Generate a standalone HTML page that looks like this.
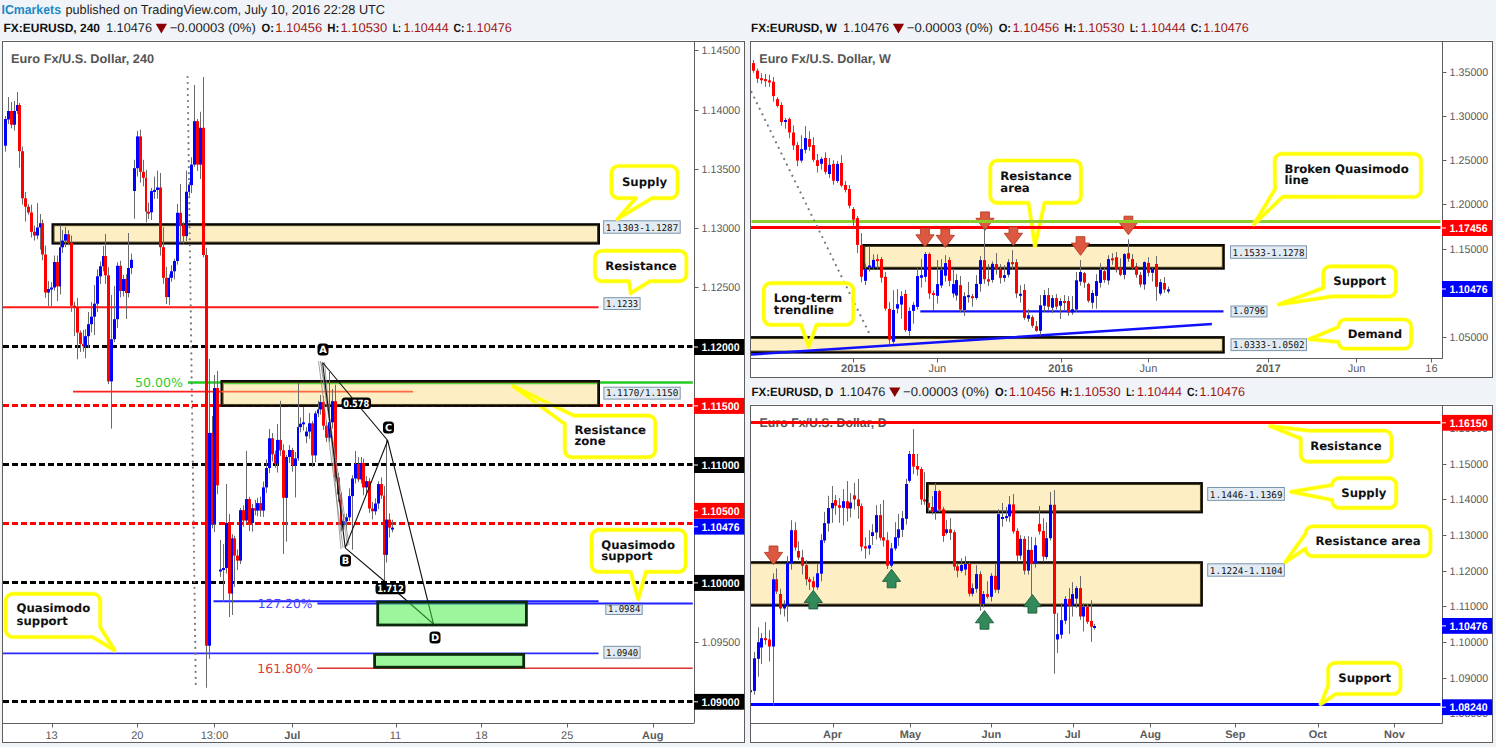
<!DOCTYPE html><html><head><meta charset="utf-8"><title>EURUSD</title><style>html,body{margin:0;padding:0;background:#f0f3f7;}svg{display:block}</style></head><body>
<svg width="1496" height="747" viewBox="0 0 1496 747" text-rendering="geometricPrecision">
<rect x="0" y="0" width="1496" height="747" fill="#f0f3f7"/>
<text x="1.5" y="13.5" font-family="'Liberation Sans', sans-serif" font-size="13" fill="#1a8ac6" font-weight="bold" textLength="59.5" lengthAdjust="spacingAndGlyphs">ICmarkets</text>
<text x="65.5" y="13.5" font-family="'Liberation Sans', sans-serif" font-size="13" fill="#1e1e1e" textLength="319.5" lengthAdjust="spacingAndGlyphs">published on TradingView.com, July 10, 2016 22:28 UTC</text>
<text x="3.5" y="32" font-family="'Liberation Sans', sans-serif" font-size="12" fill="#111" font-weight="bold" textLength="96.5" lengthAdjust="spacingAndGlyphs">FX:EURUSD, 240</text>
<text x="106" y="32" font-family="'Liberation Sans', sans-serif" font-size="12.6" fill="#1e1e1e" textLength="46" lengthAdjust="spacingAndGlyphs">1.10476</text>
<path d="M155.7,23.8h11.3l-5.65,9.6z" fill="#8b0000"/>
<text x="169.7" y="32" font-family="'Liberation Sans', sans-serif" font-size="12.6" fill="#1e1e1e" textLength="86.1" lengthAdjust="spacingAndGlyphs">−0.00003 (0%)</text>
<text x="261.6" y="32" font-family="'Liberation Sans', sans-serif" font-size="12" fill="#111" font-weight="bold" textLength="12.4" lengthAdjust="spacingAndGlyphs">O:</text>
<text x="275.3" y="32" font-family="'Liberation Sans', sans-serif" font-size="12.6" fill="#a31515" textLength="46.9" lengthAdjust="spacingAndGlyphs">1.10456</text>
<text x="327.2" y="32" font-family="'Liberation Sans', sans-serif" font-size="12" fill="#111" font-weight="bold" textLength="12" lengthAdjust="spacingAndGlyphs">H:</text>
<text x="340.4" y="32" font-family="'Liberation Sans', sans-serif" font-size="12.6" fill="#a31515" textLength="46.9" lengthAdjust="spacingAndGlyphs">1.10530</text>
<text x="392.8" y="32" font-family="'Liberation Sans', sans-serif" font-size="12" fill="#111" font-weight="bold" textLength="8.2" lengthAdjust="spacingAndGlyphs">L:</text>
<text x="403.5" y="32" font-family="'Liberation Sans', sans-serif" font-size="12.6" fill="#a31515" textLength="45.1" lengthAdjust="spacingAndGlyphs">1.10444</text>
<text x="453.6" y="32" font-family="'Liberation Sans', sans-serif" font-size="12" fill="#111" font-weight="bold" textLength="11" lengthAdjust="spacingAndGlyphs">C:</text>
<text x="466.1" y="32" font-family="'Liberation Sans', sans-serif" font-size="12.6" fill="#a31515" textLength="45.6" lengthAdjust="spacingAndGlyphs">1.10476</text>
<text x="751" y="32" font-family="'Liberation Sans', sans-serif" font-size="12" fill="#111" font-weight="bold" textLength="85.9" lengthAdjust="spacingAndGlyphs">FX:EURUSD, W</text>
<text x="843.1" y="32" font-family="'Liberation Sans', sans-serif" font-size="12.6" fill="#1e1e1e" textLength="46" lengthAdjust="spacingAndGlyphs">1.10476</text>
<path d="M892.8,23.8h11.3l-5.65,9.6z" fill="#8b0000"/>
<text x="906.8" y="32" font-family="'Liberation Sans', sans-serif" font-size="12.6" fill="#1e1e1e" textLength="86.1" lengthAdjust="spacingAndGlyphs">−0.00003 (0%)</text>
<text x="998.7" y="32" font-family="'Liberation Sans', sans-serif" font-size="12" fill="#111" font-weight="bold" textLength="12.4" lengthAdjust="spacingAndGlyphs">O:</text>
<text x="1012.4" y="32" font-family="'Liberation Sans', sans-serif" font-size="12.6" fill="#a31515" textLength="46.9" lengthAdjust="spacingAndGlyphs">1.10456</text>
<text x="1064.3" y="32" font-family="'Liberation Sans', sans-serif" font-size="12" fill="#111" font-weight="bold" textLength="12" lengthAdjust="spacingAndGlyphs">H:</text>
<text x="1077.5" y="32" font-family="'Liberation Sans', sans-serif" font-size="12.6" fill="#a31515" textLength="46.9" lengthAdjust="spacingAndGlyphs">1.10530</text>
<text x="1129.9" y="32" font-family="'Liberation Sans', sans-serif" font-size="12" fill="#111" font-weight="bold" textLength="8.2" lengthAdjust="spacingAndGlyphs">L:</text>
<text x="1140.6" y="32" font-family="'Liberation Sans', sans-serif" font-size="12.6" fill="#a31515" textLength="45.1" lengthAdjust="spacingAndGlyphs">1.10444</text>
<text x="1190.7" y="32" font-family="'Liberation Sans', sans-serif" font-size="12" fill="#111" font-weight="bold" textLength="11" lengthAdjust="spacingAndGlyphs">C:</text>
<text x="1203.2" y="32" font-family="'Liberation Sans', sans-serif" font-size="12.6" fill="#a31515" textLength="45.6" lengthAdjust="spacingAndGlyphs">1.10476</text>
<text x="751.6" y="395.7" font-family="'Liberation Sans', sans-serif" font-size="12" fill="#111" font-weight="bold" textLength="81.7" lengthAdjust="spacingAndGlyphs">FX:EURUSD, D</text>
<text x="839.4" y="395.7" font-family="'Liberation Sans', sans-serif" font-size="12.6" fill="#1e1e1e" textLength="46" lengthAdjust="spacingAndGlyphs">1.10476</text>
<path d="M889.1,387.5h11.3l-5.65,9.6z" fill="#8b0000"/>
<text x="903.1" y="395.7" font-family="'Liberation Sans', sans-serif" font-size="12.6" fill="#1e1e1e" textLength="86.1" lengthAdjust="spacingAndGlyphs">−0.00003 (0%)</text>
<text x="995" y="395.7" font-family="'Liberation Sans', sans-serif" font-size="12" fill="#111" font-weight="bold" textLength="12.4" lengthAdjust="spacingAndGlyphs">O:</text>
<text x="1008.7" y="395.7" font-family="'Liberation Sans', sans-serif" font-size="12.6" fill="#a31515" textLength="46.9" lengthAdjust="spacingAndGlyphs">1.10456</text>
<text x="1060.6" y="395.7" font-family="'Liberation Sans', sans-serif" font-size="12" fill="#111" font-weight="bold" textLength="12" lengthAdjust="spacingAndGlyphs">H:</text>
<text x="1073.8" y="395.7" font-family="'Liberation Sans', sans-serif" font-size="12.6" fill="#a31515" textLength="46.9" lengthAdjust="spacingAndGlyphs">1.10530</text>
<text x="1126.2" y="395.7" font-family="'Liberation Sans', sans-serif" font-size="12" fill="#111" font-weight="bold" textLength="8.2" lengthAdjust="spacingAndGlyphs">L:</text>
<text x="1136.9" y="395.7" font-family="'Liberation Sans', sans-serif" font-size="12.6" fill="#a31515" textLength="45.1" lengthAdjust="spacingAndGlyphs">1.10444</text>
<text x="1187" y="395.7" font-family="'Liberation Sans', sans-serif" font-size="12" fill="#111" font-weight="bold" textLength="11" lengthAdjust="spacingAndGlyphs">C:</text>
<text x="1199.5" y="395.7" font-family="'Liberation Sans', sans-serif" font-size="12.6" fill="#a31515" textLength="45.6" lengthAdjust="spacingAndGlyphs">1.10476</text>
<rect x="2.5" y="41.5" width="742" height="701" fill="#fff" stroke="#5e5e5e" stroke-width="1"/>
<line x1="2" y1="40.5" x2="745" y2="40.5" stroke="#fbfdfe" stroke-width="1"/>
<line x1="3" y1="346.5" x2="692.5" y2="346.5" stroke="#000" stroke-width="3" stroke-dasharray="6 3"/>
<line x1="3" y1="464.5" x2="692.5" y2="464.5" stroke="#000" stroke-width="3" stroke-dasharray="6 3"/>
<line x1="3" y1="582.5" x2="692.5" y2="582.5" stroke="#000" stroke-width="3" stroke-dasharray="6 3"/>
<line x1="3" y1="701.5" x2="692.5" y2="701.5" stroke="#000" stroke-width="3" stroke-dasharray="6 3"/>
<line x1="3" y1="405.5" x2="692.5" y2="405.5" stroke="#ff0000" stroke-width="3" stroke-dasharray="6 3"/>
<line x1="3" y1="523.5" x2="692.5" y2="523.5" stroke="#ff0000" stroke-width="3" stroke-dasharray="6 3"/>
<line x1="3" y1="307.3" x2="598.6" y2="307.3" stroke="#ff1a1a" stroke-width="2"/>
<line x1="188" y1="382.5" x2="692.8" y2="382.5" stroke="#22cc22" stroke-width="2.6"/>
<line x1="213.5" y1="601.3" x2="598.6" y2="601.3" stroke="#2020ff" stroke-width="2"/>
<line x1="317.4" y1="603.6" x2="692.8" y2="603.6" stroke="#2020ff" stroke-width="2"/>
<line x1="3" y1="653.3" x2="598.6" y2="653.3" stroke="#2a2aff" stroke-width="1.8"/>
<line x1="317" y1="668.2" x2="692.8" y2="668.2" stroke="#e03030" stroke-width="1.6"/>
<rect x="53" y="224.7" width="545.5" height="18.4" fill="#fdeec3"/>
<rect x="53" y="224.7" width="545.5" height="18.4" fill="none" stroke="#050505" stroke-width="3"/>
<rect x="53.9" y="225.6" width="543.7" height="16.6" fill="none" stroke="#5e4d1c" stroke-width="1.2" stroke-opacity="0.85"/>
<rect x="55.1" y="226.8" width="541.3" height="14.2" fill="none" stroke="#fff6d6" stroke-width="0.9" stroke-opacity="0.9"/>
<rect x="222" y="381.5" width="376.5" height="23.9" fill="#fdeec3"/>
<line x1="222" y1="382.6" x2="598.6" y2="382.6" stroke="#22cc22" stroke-width="2.6"/>
<path d="M574,415.6 L648.2,415.6 A7,7 0 0 1 655.2,422.6 L655.2,450.2 A7,7 0 0 1 648.2,457.2 L571.8,457.2 A7,7 0 0 1 564.8,450.2 L564.8,424 L513,386 Z" fill="none" stroke="#ffff70" stroke-width="4.6" stroke-linejoin="round" stroke-opacity="0.7"/>
<path d="M574,415.6 L648.2,415.6 A7,7 0 0 1 655.2,422.6 L655.2,450.2 A7,7 0 0 1 648.2,457.2 L571.8,457.2 A7,7 0 0 1 564.8,450.2 L564.8,424 L513,386 Z" fill="none" stroke="#ffff00" stroke-width="3.2" stroke-linejoin="round"/>
<text x="574.5" y="433.8" font-family="'DejaVu Sans', sans-serif" font-size="11.7" fill="#111" font-weight="bold">Resistance</text>
<text x="574.5" y="445" font-family="'DejaVu Sans', sans-serif" font-size="11.7" fill="#111" font-weight="bold">zone</text>
<rect x="222" y="381.5" width="376.5" height="23.9" fill="none" stroke="#050505" stroke-width="3"/>
<rect x="222.9" y="382.4" width="374.7" height="22.1" fill="none" stroke="#5e4d1c" stroke-width="1.2" stroke-opacity="0.85"/>
<rect x="224.1" y="383.6" width="372.3" height="19.7" fill="none" stroke="#fff6d6" stroke-width="0.9" stroke-opacity="0.9"/>
<line x1="223.6" y1="383.6" x2="597" y2="383.6" stroke="#52d43a" stroke-width="1.1"/>
<line x1="73" y1="391.6" x2="222" y2="391.6" stroke="#ff2020" stroke-width="1.8"/>
<line x1="222" y1="391.6" x2="413" y2="391.6" stroke="#ff6a40" stroke-width="1.8"/>
<line x1="187.6" y1="77" x2="195.8" y2="686" stroke="#7a7a7a" stroke-width="2.2" stroke-linecap="round" stroke-dasharray="0.01 6"/>
<path d="M5.5,116V151.7M8.5,97V124M11.5,102V128.37M14.5,101V130.51M17.5,92V114M19.5,103V167.7M22.5,146.61V204.53M25.5,191.92V221.5M28.5,204.24V214.59M31.5,204.64V237.5M34.5,225.5V240.6M37.5,203V239.32M40.5,214V249.6M42.5,219.56V260.3M45.5,245.53V297.79M48.5,281.14V306M51.5,282.17V308M54.5,255.53V290.55M57.5,255.56V301M60.5,225V294.48M62.5,230V252.96M65.5,227.01V247.3M68.5,230V245.35M71.5,235.59V311.84M74.5,301.59V336M77.5,298V359.3M80.5,330.38V351.96M83.5,330V351.61M85.5,329.17V358.3M88.5,312V348M91.5,302V332.35M94.5,285V335M97.5,269.3V312.15M100.5,261.54V283.91M103.5,246V271.41M105.5,233.9V283.85M108.5,267.15V384.08M111.5,295V428.6M114.5,286V342.15M117.5,262.28V327.96M120.5,260.75V297.39M123.5,274.89V296.55M126.5,274.3V319M128.5,233V297.46M131.5,253.7V274.09M134.5,159.8V218.8M137.5,130.8V176.53M140.5,129.63V182.7M143.5,159.8V186.3M146.5,169.81V222.4M148.5,202.66V219M151.5,187.96V220M154.5,176.6V199.02M157.5,170.6V198.65M160.5,173V255.53M163.5,227.2V283.78M166.5,267V304.1M169.5,274.32V304.92M171.5,265.29V281.79M174.5,258.56V279.28M177.5,203.87V264.6M180.5,184V242.9M183.5,222.18V243.7M186.5,170.6V240.97M189.5,182.04V195.86M191.5,157.22V193.21M194.5,85V166.91M197.5,119V170.9M200.5,111.8V179M203.5,77V257.31M206.5,247.97V687.8M209.5,359V659M212.5,416V528.32M214.5,375V532.17M217.5,371V494.26M220.5,540V577M223.5,544V602M226.5,484V573.54M229.5,513.91V617M232.5,534.13V615M234.5,535.76V587M237.5,549.4V570M240.5,507.98V563.98M243.5,505.34V526.77M246.5,451V523.59M249.5,496.8V530.97M252.5,504V531.61M255.5,499.92V515.24M257.5,497.88V516.24M260.5,496.59V516.77M263.5,481.49V516.94M266.5,459.42V492.95M269.5,429V473.02M272.5,433V461.34M275.5,450.64V467.81M277.5,424V472.54M280.5,400.8V455.95M283.5,444.46V554M286.5,454.92V541.7M289.5,445.09V463.06M292.5,447.86V471.71M295.5,451.97V497.5M298.5,383V460.82M300.5,417.41V432.36M303.5,406.8V430.55M306.5,427.13V443.25M309.5,413V438.77M312.5,421.14V467M315.5,410.98V462.13M318.5,400.76V417.16M320.5,395V414.69M323.5,395.95V429.94M326.5,421.15V441.89M329.5,372V442.28M332.5,389V428.47M335.5,384.7V481.6M338.5,472.86V501.91M341.5,492.31V531.28M343.5,514.15V529.47M346.5,513.74V529.6M349.5,488.47V520.97M352.5,475.19V549.7M355.5,451V483.55M358.5,457.11V482.11M361.5,457V483.65M363.5,458.66V495.23M366.5,476.13V495.39M369.5,478.02V512.86M372.5,501.95V519.49M375.5,498.34V514.88M378.5,481.25V509.21M381.5,477.4V498.84M384.5,486V581M386.5,440V562.45M389.5,513.5V537.6M392.5,519.73V532.29" stroke="#6a6a6a" stroke-width="1" fill="none"/>
<rect x="4" y="119" width="3" height="26.7" fill="#0000ff"/>
<rect x="7" y="111" width="3" height="8.5" fill="#0000ff"/>
<rect x="10" y="111" width="3" height="13.7" fill="#ff0000"/>
<rect x="13" y="111" width="3" height="13.7" fill="#0000ff"/>
<rect x="16" y="105" width="2" height="6" fill="#0000ff"/>
<rect x="18" y="105" width="3" height="46.2" fill="#ff0000"/>
<rect x="21" y="151.2" width="3" height="47.1" fill="#ff0000"/>
<rect x="24" y="198.3" width="3" height="8.4" fill="#ff0000"/>
<rect x="27" y="206.7" width="3" height="5.8" fill="#ff0000"/>
<rect x="30" y="212.5" width="3" height="19.3" fill="#ff0000"/>
<rect x="33" y="231.8" width="3" height="3.7" fill="#ff0000"/>
<rect x="36" y="227.5" width="3" height="8" fill="#0000ff"/>
<rect x="39" y="223.2" width="2" height="4.3" fill="#0000ff"/>
<rect x="41" y="223.2" width="3" height="31.3" fill="#ff0000"/>
<rect x="44" y="254.5" width="3" height="38" fill="#ff0000"/>
<rect x="47" y="289" width="3" height="3.5" fill="#0000ff"/>
<rect x="50" y="287.5" width="3" height="2" fill="#0000ff"/>
<rect x="53" y="262" width="3" height="25.5" fill="#0000ff"/>
<rect x="56" y="262" width="3" height="24.4" fill="#ff0000"/>
<rect x="59" y="247.3" width="2" height="39.1" fill="#0000ff"/>
<rect x="61" y="240.6" width="3" height="6.7" fill="#0000ff"/>
<rect x="64" y="234.2" width="3" height="6.4" fill="#0000ff"/>
<rect x="67" y="234.2" width="3" height="8.7" fill="#ff0000"/>
<rect x="70" y="242.9" width="3" height="62.8" fill="#ff0000"/>
<rect x="73" y="305.7" width="3" height="2" fill="#ff0000"/>
<rect x="76" y="307" width="3" height="25.6" fill="#ff0000"/>
<rect x="79" y="332.6" width="3" height="11.3" fill="#ff0000"/>
<rect x="82" y="343.9" width="2" height="2.4" fill="#ff0000"/>
<rect x="84" y="336.2" width="3" height="10.1" fill="#0000ff"/>
<rect x="87" y="324.2" width="3" height="12" fill="#0000ff"/>
<rect x="90" y="316.7" width="3" height="7.5" fill="#0000ff"/>
<rect x="93" y="303.7" width="3" height="13" fill="#0000ff"/>
<rect x="96" y="276.3" width="3" height="27.4" fill="#0000ff"/>
<rect x="99" y="266.3" width="3" height="10" fill="#0000ff"/>
<rect x="102" y="256" width="2" height="10.3" fill="#0000ff"/>
<rect x="104" y="256" width="3" height="19.3" fill="#ff0000"/>
<rect x="107" y="275.3" width="3" height="106.1" fill="#ff0000"/>
<rect x="110" y="339.2" width="3" height="42.2" fill="#0000ff"/>
<rect x="113" y="319.2" width="3" height="20" fill="#0000ff"/>
<rect x="116" y="265.8" width="3" height="53.4" fill="#0000ff"/>
<rect x="119" y="265.8" width="3" height="25.2" fill="#ff0000"/>
<rect x="122" y="279" width="3" height="12" fill="#0000ff"/>
<rect x="125" y="279" width="2" height="14" fill="#ff0000"/>
<rect x="127" y="268" width="3" height="25" fill="#0000ff"/>
<rect x="130" y="259.8" width="3" height="8.2" fill="#0000ff"/>
<rect x="133" y="168.2" width="3" height="22.8" fill="#0000ff"/>
<rect x="136" y="136.4" width="3" height="31.8" fill="#0000ff"/>
<rect x="139" y="136.4" width="3" height="35.4" fill="#ff0000"/>
<rect x="142" y="171.8" width="3" height="6" fill="#ff0000"/>
<rect x="145" y="177.8" width="2" height="33.8" fill="#ff0000"/>
<rect x="147" y="211.6" width="3" height="2" fill="#ff0000"/>
<rect x="150" y="191.1" width="3" height="21.2" fill="#0000ff"/>
<rect x="153" y="189.9" width="3" height="2" fill="#0000ff"/>
<rect x="156" y="187.5" width="3" height="2.4" fill="#0000ff"/>
<rect x="159" y="187.5" width="3" height="59.7" fill="#ff0000"/>
<rect x="162" y="247.2" width="3" height="30.6" fill="#ff0000"/>
<rect x="165" y="277.8" width="3" height="19.3" fill="#ff0000"/>
<rect x="168" y="277.8" width="2" height="19.3" fill="#0000ff"/>
<rect x="170" y="271.3" width="3" height="6.5" fill="#0000ff"/>
<rect x="173" y="261" width="3" height="10.3" fill="#0000ff"/>
<rect x="176" y="212.8" width="3" height="48.2" fill="#0000ff"/>
<rect x="179" y="212.8" width="3" height="12" fill="#ff0000"/>
<rect x="182" y="224.8" width="3" height="11.3" fill="#ff0000"/>
<rect x="185" y="191.8" width="3" height="44.3" fill="#0000ff"/>
<rect x="188" y="185.1" width="2" height="6.7" fill="#0000ff"/>
<rect x="190" y="164.6" width="3" height="20.5" fill="#0000ff"/>
<rect x="193" y="121.2" width="3" height="43.4" fill="#0000ff"/>
<rect x="196" y="121.2" width="3" height="43.4" fill="#ff0000"/>
<rect x="199" y="127.8" width="3" height="36.8" fill="#0000ff"/>
<rect x="202" y="127.8" width="3" height="127.2" fill="#ff0000"/>
<rect x="205" y="255" width="3" height="390.7" fill="#ff0000"/>
<rect x="208" y="432.9" width="3" height="212.8" fill="#0000ff"/>
<rect x="211" y="432.9" width="2" height="91.1" fill="#ff0000"/>
<rect x="213" y="388" width="3" height="136" fill="#0000ff"/>
<rect x="216" y="388" width="3" height="97.4" fill="#ff0000"/>
<rect x="219" y="569.5" width="3" height="2" fill="#0000ff"/>
<rect x="222" y="568" width="3" height="2" fill="#0000ff"/>
<rect x="225" y="522.9" width="3" height="45.1" fill="#0000ff"/>
<rect x="228" y="522.9" width="3" height="70.6" fill="#ff0000"/>
<rect x="231" y="538.3" width="2" height="55.2" fill="#0000ff"/>
<rect x="233" y="538.3" width="3" height="17.3" fill="#ff0000"/>
<rect x="236" y="555.6" width="3" height="5" fill="#ff0000"/>
<rect x="239" y="510.2" width="3" height="50.4" fill="#0000ff"/>
<rect x="242" y="510.2" width="3" height="10.3" fill="#ff0000"/>
<rect x="245" y="499.1" width="3" height="21.4" fill="#0000ff"/>
<rect x="248" y="499.1" width="3" height="23.8" fill="#ff0000"/>
<rect x="251" y="508.2" width="3" height="14.7" fill="#0000ff"/>
<rect x="254" y="508.2" width="2" height="2.4" fill="#ff0000"/>
<rect x="256" y="503.1" width="3" height="7.5" fill="#0000ff"/>
<rect x="259" y="503.1" width="3" height="7.5" fill="#ff0000"/>
<rect x="262" y="487.4" width="3" height="23.2" fill="#0000ff"/>
<rect x="265" y="468" width="3" height="19.4" fill="#0000ff"/>
<rect x="268" y="438.3" width="3" height="29.7" fill="#0000ff"/>
<rect x="271" y="438.3" width="3" height="16" fill="#ff0000"/>
<rect x="274" y="454.3" width="2" height="9.4" fill="#ff0000"/>
<rect x="276" y="439.9" width="3" height="23.8" fill="#0000ff"/>
<rect x="279" y="439.9" width="3" height="10.4" fill="#ff0000"/>
<rect x="282" y="450.3" width="3" height="47.5" fill="#ff0000"/>
<rect x="285" y="457" width="3" height="40.8" fill="#0000ff"/>
<rect x="288" y="450" width="3" height="7" fill="#0000ff"/>
<rect x="291" y="450" width="3" height="15.4" fill="#ff0000"/>
<rect x="294" y="458.4" width="3" height="7" fill="#0000ff"/>
<rect x="297" y="427.1" width="2" height="31.3" fill="#0000ff"/>
<rect x="299" y="423.8" width="3" height="3.3" fill="#0000ff"/>
<rect x="302" y="422.3" width="3" height="2" fill="#0000ff"/>
<rect x="305" y="431.6" width="3" height="4.7" fill="#0000ff"/>
<rect x="308" y="423.3" width="3" height="8.3" fill="#0000ff"/>
<rect x="311" y="423.3" width="3" height="32.1" fill="#ff0000"/>
<rect x="314" y="413.4" width="3" height="42" fill="#0000ff"/>
<rect x="317" y="409.5" width="2" height="3.9" fill="#0000ff"/>
<rect x="319" y="402.1" width="3" height="7.4" fill="#0000ff"/>
<rect x="322" y="402.1" width="3" height="23.6" fill="#ff0000"/>
<rect x="325" y="425.7" width="3" height="12" fill="#ff0000"/>
<rect x="328" y="422.3" width="3" height="15.4" fill="#0000ff"/>
<rect x="331" y="401.2" width="3" height="21.1" fill="#0000ff"/>
<rect x="334" y="401.2" width="3" height="76.3" fill="#ff0000"/>
<rect x="337" y="477.5" width="3" height="17" fill="#ff0000"/>
<rect x="340" y="494.5" width="2" height="30.8" fill="#ff0000"/>
<rect x="342" y="521.3" width="3" height="4" fill="#0000ff"/>
<rect x="345" y="517.3" width="3" height="4" fill="#0000ff"/>
<rect x="348" y="496.1" width="3" height="21.2" fill="#0000ff"/>
<rect x="351" y="478.5" width="3" height="17.6" fill="#0000ff"/>
<rect x="354" y="464" width="3" height="14.5" fill="#0000ff"/>
<rect x="357" y="464" width="3" height="15.4" fill="#ff0000"/>
<rect x="360" y="463" width="2" height="16.4" fill="#0000ff"/>
<rect x="362" y="463" width="3" height="24.4" fill="#ff0000"/>
<rect x="365" y="481.2" width="3" height="6.2" fill="#0000ff"/>
<rect x="368" y="481.2" width="3" height="27.3" fill="#ff0000"/>
<rect x="371" y="508.5" width="3" height="2.8" fill="#ff0000"/>
<rect x="374" y="503.5" width="3" height="7.8" fill="#0000ff"/>
<rect x="377" y="484.1" width="3" height="19.4" fill="#0000ff"/>
<rect x="380" y="484.1" width="3" height="11.4" fill="#ff0000"/>
<rect x="383" y="495.5" width="2" height="59.3" fill="#ff0000"/>
<rect x="385" y="519.6" width="3" height="35.2" fill="#0000ff"/>
<rect x="388" y="519.6" width="3" height="8" fill="#ff0000"/>
<rect x="391" y="527.6" width="3" height="2" fill="#0000ff"/>
<path d="M318.5,361 L343,548 M320.5,361 L347.5,546 M324.5,362 L341,549 M321,362 L349,545" stroke="#8a8a8a" stroke-width="0.8" fill="none"/>
<path d="M322.6,362.5 L387.7,440.5 L433.5,624 M322.6,362.5 L345.2,547.8 L387.7,440.5 M345.2,547.8 L384.2,581 L433.5,624" stroke="#111" stroke-width="1.1" fill="none"/>
<rect x="377.7" y="602" width="148.7" height="23" fill="#39ef39" stroke="#0c2a0c" stroke-width="2.8" fill-opacity="0.5"/>
<rect x="374.6" y="654.4" width="149.1" height="12.8" fill="#39ef39" stroke="#0c2a0c" stroke-width="2.8" fill-opacity="0.5"/>
<text x="135" y="387" font-family="'DejaVu Sans', sans-serif" font-size="12.5" fill="#33cc33" textLength="48" lengthAdjust="spacingAndGlyphs">50.00%</text>
<text x="257.8" y="608" font-family="'DejaVu Sans', sans-serif" font-size="12.5" fill="#4444ff" textLength="54.7" lengthAdjust="spacingAndGlyphs">127.20%</text>
<text x="257.2" y="673" font-family="'DejaVu Sans', sans-serif" font-size="12.5" fill="#e03c3c" textLength="55.9" lengthAdjust="spacingAndGlyphs">161.80%</text>
<rect x="317.5" y="343.5" width="11" height="12" rx="3.5" fill="#000"/>
<text x="323" y="353.3" font-family="'DejaVu Sans', sans-serif" font-size="9.8" fill="#fff" font-weight="bold" text-anchor="middle">A</text>
<rect x="340" y="554.5" width="11" height="12" rx="3.5" fill="#000"/>
<text x="345.5" y="564.3" font-family="'DejaVu Sans', sans-serif" font-size="9.8" fill="#fff" font-weight="bold" text-anchor="middle">B</text>
<rect x="383" y="421.5" width="11" height="12" rx="3.5" fill="#000"/>
<text x="388.5" y="431.3" font-family="'DejaVu Sans', sans-serif" font-size="9.8" fill="#fff" font-weight="bold" text-anchor="middle">C</text>
<rect x="429.5" y="631.5" width="11" height="12" rx="3.5" fill="#000"/>
<text x="435" y="641.3" font-family="'DejaVu Sans', sans-serif" font-size="9.8" fill="#fff" font-weight="bold" text-anchor="middle">D</text>
<rect x="341.55" y="397.45" width="29.5" height="11.5" rx="3.5" fill="#000"/>
<text x="356.3" y="407" font-family="'DejaVu Sans', sans-serif" font-size="9.8" fill="#fff" font-weight="bold" text-anchor="middle" textLength="26.1" lengthAdjust="spacingAndGlyphs">0.578</text>
<rect x="375.5" y="583" width="30" height="11.2" rx="3.5" fill="#000"/>
<text x="390.5" y="592.4" font-family="'DejaVu Sans', sans-serif" font-size="9.8" fill="#fff" font-weight="bold" text-anchor="middle" textLength="26.6" lengthAdjust="spacingAndGlyphs">1.712</text>
<rect x="603.6" y="220.8" width="76.6" height="12.4" fill="#e2ebf3" stroke="#7a95ab" stroke-width="1"/>
<text x="605.7" y="230.5" font-family="'DejaVu Sans Mono', monospace" font-size="9.3" fill="#111" textLength="72.6" lengthAdjust="spacingAndGlyphs">1.1303-1.1287</text>
<rect x="603.9" y="297.7" width="36.2" height="11.8" fill="#e2ebf3" stroke="#7a95ab" stroke-width="1"/>
<text x="606" y="306.8" font-family="'DejaVu Sans Mono', monospace" font-size="9.3" fill="#111" textLength="32.2" lengthAdjust="spacingAndGlyphs">1.1233</text>
<rect x="603.9" y="387.2" width="76.3" height="11.9" fill="#e2ebf3" stroke="#7a95ab" stroke-width="1"/>
<text x="606" y="396.4" font-family="'DejaVu Sans Mono', monospace" font-size="9.3" fill="#111" textLength="72.3" lengthAdjust="spacingAndGlyphs">1.1170/1.1150</text>
<rect x="605.8" y="604.9" width="36.4" height="9.6" fill="#e2ebf3" stroke="#7a95ab" stroke-width="1"/>
<text x="607.9" y="611.8" font-family="'DejaVu Sans Mono', monospace" font-size="9.3" fill="#111" textLength="32.4" lengthAdjust="spacingAndGlyphs">1.0984</text>
<rect x="603.9" y="646.3" width="36.2" height="11.9" fill="#e2ebf3" stroke="#7a95ab" stroke-width="1"/>
<text x="606" y="655.5" font-family="'DejaVu Sans Mono', monospace" font-size="9.3" fill="#111" textLength="32.2" lengthAdjust="spacingAndGlyphs">1.0940</text>
<path d="M618.4,166 L670.5,166 A7,7 0 0 1 677.5,173 L677.5,191.1 A7,7 0 0 1 670.5,198.1 L652,198.1 L617.5,219 L636,198.1 L618.4,198.1 A7,7 0 0 1 611.4,191.1 L611.4,173 A7,7 0 0 1 618.4,166 Z" fill="none" stroke="#ffff70" stroke-width="4.6" stroke-linejoin="round" stroke-opacity="0.7"/>
<path d="M618.4,166 L670.5,166 A7,7 0 0 1 677.5,173 L677.5,191.1 A7,7 0 0 1 670.5,198.1 L652,198.1 L617.5,219 L636,198.1 L618.4,198.1 A7,7 0 0 1 611.4,191.1 L611.4,173 A7,7 0 0 1 618.4,166 Z" fill="none" stroke="#ffff00" stroke-width="3.2" stroke-linejoin="round"/>
<text x="644.5" y="185.7" font-family="'DejaVu Sans', sans-serif" font-size="11.7" fill="#111" font-weight="bold" text-anchor="middle">Supply</text>
<path d="M602,250.8 L679.4,250.8 A7,7 0 0 1 686.4,257.8 L686.4,274.2 A7,7 0 0 1 679.4,281.2 L650,281.2 L630.7,293.2 L629,281.2 L602,281.2 A7,7 0 0 1 595,274.2 L595,257.8 A7,7 0 0 1 602,250.8 Z" fill="none" stroke="#ffff70" stroke-width="4.6" stroke-linejoin="round" stroke-opacity="0.7"/>
<path d="M602,250.8 L679.4,250.8 A7,7 0 0 1 686.4,257.8 L686.4,274.2 A7,7 0 0 1 679.4,281.2 L650,281.2 L630.7,293.2 L629,281.2 L602,281.2 A7,7 0 0 1 595,274.2 L595,257.8 A7,7 0 0 1 602,250.8 Z" fill="none" stroke="#ffff00" stroke-width="3.2" stroke-linejoin="round"/>
<text x="640.9" y="269.6" font-family="'DejaVu Sans', sans-serif" font-size="11.7" fill="#111" font-weight="bold" text-anchor="middle">Resistance</text>
<path d="M598.6,529.9 L678.6,529.9 A7,7 0 0 1 685.6,536.9 L685.6,564.8 A7,7 0 0 1 678.6,571.8 L646,571.8 L638.2,599 L630.5,571.8 L598.6,571.8 A7,7 0 0 1 591.6,564.8 L591.6,536.9 A7,7 0 0 1 598.6,529.9 Z" fill="none" stroke="#ffff70" stroke-width="4.6" stroke-linejoin="round" stroke-opacity="0.7"/>
<path d="M598.6,529.9 L678.6,529.9 A7,7 0 0 1 685.6,536.9 L685.6,564.8 A7,7 0 0 1 678.6,571.8 L646,571.8 L638.2,599 L630.5,571.8 L598.6,571.8 A7,7 0 0 1 591.6,564.8 L591.6,536.9 A7,7 0 0 1 598.6,529.9 Z" fill="none" stroke="#ffff00" stroke-width="3.2" stroke-linejoin="round"/>
<text x="601.3" y="549" font-family="'DejaVu Sans', sans-serif" font-size="11.7" fill="#111" font-weight="bold">Quasimodo</text>
<text x="601.3" y="560.2" font-family="'DejaVu Sans', sans-serif" font-size="11.7" fill="#111" font-weight="bold">support</text>
<path d="M12.8,593.8 L93.2,593.8 A7,7 0 0 1 100.2,600.8 L100.2,627 L114.6,650.3 L92.5,637 L12.8,637 A7,7 0 0 1 5.8,630 L5.8,600.8 A7,7 0 0 1 12.8,593.8 Z" fill="none" stroke="#ffff70" stroke-width="4.6" stroke-linejoin="round" stroke-opacity="0.7"/>
<path d="M12.8,593.8 L93.2,593.8 A7,7 0 0 1 100.2,600.8 L100.2,627 L114.6,650.3 L92.5,637 L12.8,637 A7,7 0 0 1 5.8,630 L5.8,600.8 A7,7 0 0 1 12.8,593.8 Z" fill="none" stroke="#ffff00" stroke-width="3.2" stroke-linejoin="round"/>
<text x="16.5" y="612.4" font-family="'DejaVu Sans', sans-serif" font-size="11.7" fill="#111" font-weight="bold">Quasimodo</text>
<text x="16.5" y="624.6" font-family="'DejaVu Sans', sans-serif" font-size="11.7" fill="#111" font-weight="bold">support</text>
<text x="11.1" y="62.9" font-family="'Liberation Sans', sans-serif" font-size="12.6" fill="#555" font-weight="bold" textLength="143" lengthAdjust="spacingAndGlyphs">Euro Fx/U.S. Dollar, 240</text>
<line x1="694.5" y1="41" x2="694.5" y2="723" stroke="#5e5e5e" stroke-width="1"/>
<line x1="2" y1="723.5" x2="694.5" y2="723.5" stroke="#5e5e5e" stroke-width="1"/>
<line x1="694.5" y1="50.5" x2="698.5" y2="50.5" stroke="#5e5e5e" stroke-width="1"/>
<text x="701.6" y="54.38" font-family="'Liberation Sans', sans-serif" font-size="11" fill="#5a5a5a" textLength="38.6" lengthAdjust="spacingAndGlyphs">1.14500</text>
<line x1="694.5" y1="110.5" x2="698.5" y2="110.5" stroke="#5e5e5e" stroke-width="1"/>
<text x="701.6" y="113.54" font-family="'Liberation Sans', sans-serif" font-size="11" fill="#5a5a5a" textLength="38.6" lengthAdjust="spacingAndGlyphs">1.14000</text>
<line x1="694.5" y1="169.5" x2="698.5" y2="169.5" stroke="#5e5e5e" stroke-width="1"/>
<text x="701.6" y="172.71" font-family="'Liberation Sans', sans-serif" font-size="11" fill="#5a5a5a" textLength="38.6" lengthAdjust="spacingAndGlyphs">1.13500</text>
<line x1="694.5" y1="228.5" x2="698.5" y2="228.5" stroke="#5e5e5e" stroke-width="1"/>
<text x="701.6" y="231.87" font-family="'Liberation Sans', sans-serif" font-size="11" fill="#5a5a5a" textLength="38.6" lengthAdjust="spacingAndGlyphs">1.13000</text>
<line x1="694.5" y1="287.5" x2="698.5" y2="287.5" stroke="#5e5e5e" stroke-width="1"/>
<text x="701.6" y="291.04" font-family="'Liberation Sans', sans-serif" font-size="11" fill="#5a5a5a" textLength="38.6" lengthAdjust="spacingAndGlyphs">1.12500</text>
<line x1="694.5" y1="642.5" x2="698.5" y2="642.5" stroke="#5e5e5e" stroke-width="1"/>
<text x="701.6" y="646.03" font-family="'Liberation Sans', sans-serif" font-size="11" fill="#5a5a5a" textLength="38.6" lengthAdjust="spacingAndGlyphs">1.09500</text>
<rect x="694" y="339" width="50.2" height="16" fill="#000"/>
<line x1="694" y1="347" x2="698" y2="347" stroke="#fff" stroke-width="1"/>
<text x="701.5" y="351" font-family="'Liberation Sans', sans-serif" font-size="11" fill="#fff" font-weight="bold" textLength="38" lengthAdjust="spacingAndGlyphs">1.12000</text>
<rect x="694" y="397.9" width="50.2" height="16" fill="#ff0000"/>
<line x1="694" y1="405.9" x2="698" y2="405.9" stroke="#fff" stroke-width="1"/>
<text x="701.5" y="409.9" font-family="'Liberation Sans', sans-serif" font-size="11" fill="#fff" font-weight="bold" textLength="38" lengthAdjust="spacingAndGlyphs">1.11500</text>
<rect x="694" y="457" width="50.2" height="16" fill="#000"/>
<line x1="694" y1="465" x2="698" y2="465" stroke="#fff" stroke-width="1"/>
<text x="701.5" y="469" font-family="'Liberation Sans', sans-serif" font-size="11" fill="#fff" font-weight="bold" textLength="38" lengthAdjust="spacingAndGlyphs">1.11000</text>
<rect x="694" y="502.9" width="50.2" height="15.8" fill="#ff0000"/>
<line x1="694" y1="510.8" x2="698" y2="510.8" stroke="#fff" stroke-width="1"/>
<text x="701.5" y="514.8" font-family="'Liberation Sans', sans-serif" font-size="11" fill="#fff" font-weight="bold" textLength="38" lengthAdjust="spacingAndGlyphs">1.10500</text>
<rect x="694" y="519" width="50.2" height="15.6" fill="#0000ff"/>
<line x1="694" y1="526.8" x2="698" y2="526.8" stroke="#fff" stroke-width="1"/>
<text x="701.5" y="530.8" font-family="'Liberation Sans', sans-serif" font-size="11" fill="#fff" font-weight="bold" textLength="38" lengthAdjust="spacingAndGlyphs">1.10476</text>
<rect x="694" y="574.9" width="50.2" height="16" fill="#000"/>
<line x1="694" y1="582.9" x2="698" y2="582.9" stroke="#fff" stroke-width="1"/>
<text x="701.5" y="586.9" font-family="'Liberation Sans', sans-serif" font-size="11" fill="#fff" font-weight="bold" textLength="38" lengthAdjust="spacingAndGlyphs">1.10000</text>
<rect x="694" y="693.9" width="50.2" height="15.8" fill="#000"/>
<line x1="694" y1="701.8" x2="698" y2="701.8" stroke="#fff" stroke-width="1"/>
<text x="701.5" y="705.8" font-family="'Liberation Sans', sans-serif" font-size="11" fill="#fff" font-weight="bold" textLength="38" lengthAdjust="spacingAndGlyphs">1.09000</text>
<line x1="52.5" y1="723" x2="52.5" y2="727.5" stroke="#5e5e5e" stroke-width="1"/>
<text x="51.5" y="738.5" font-family="'Liberation Sans', sans-serif" font-size="11" fill="#5a5a5a" text-anchor="middle">13</text>
<line x1="137.5" y1="723" x2="137.5" y2="727.5" stroke="#5e5e5e" stroke-width="1"/>
<text x="137.3" y="738.5" font-family="'Liberation Sans', sans-serif" font-size="11" fill="#5a5a5a" text-anchor="middle">20</text>
<line x1="214.5" y1="723" x2="214.5" y2="727.5" stroke="#5e5e5e" stroke-width="1"/>
<text x="214.5" y="738.5" font-family="'Liberation Sans', sans-serif" font-size="11" fill="#5a5a5a" text-anchor="middle">13:00</text>
<line x1="292.5" y1="723" x2="292.5" y2="727.5" stroke="#5e5e5e" stroke-width="1"/>
<text x="292.3" y="738.5" font-family="'Liberation Sans', sans-serif" font-size="11" fill="#5a5a5a" font-weight="bold" text-anchor="middle">Jul</text>
<line x1="396.5" y1="723" x2="396.5" y2="727.5" stroke="#5e5e5e" stroke-width="1"/>
<text x="395.5" y="738.5" font-family="'Liberation Sans', sans-serif" font-size="11" fill="#5a5a5a" text-anchor="middle">11</text>
<line x1="481.5" y1="723" x2="481.5" y2="727.5" stroke="#5e5e5e" stroke-width="1"/>
<text x="481.4" y="738.5" font-family="'Liberation Sans', sans-serif" font-size="11" fill="#5a5a5a" text-anchor="middle">18</text>
<line x1="567.5" y1="723" x2="567.5" y2="727.5" stroke="#5e5e5e" stroke-width="1"/>
<text x="567.2" y="738.5" font-family="'Liberation Sans', sans-serif" font-size="11" fill="#5a5a5a" text-anchor="middle">25</text>
<line x1="653.5" y1="723" x2="653.5" y2="727.5" stroke="#5e5e5e" stroke-width="1"/>
<text x="652.7" y="738.5" font-family="'Liberation Sans', sans-serif" font-size="11" fill="#5a5a5a" font-weight="bold" text-anchor="middle">Aug</text>
<rect x="750.5" y="41.5" width="742" height="336" fill="#fff" stroke="#5e5e5e" stroke-width="1"/>
<line x1="750" y1="40.5" x2="1493" y2="40.5" stroke="#fbfdfe" stroke-width="1"/>
<clipPath id="cw"><rect x="751" y="42" width="691" height="316"/></clipPath>
<g clip-path="url(#cw)">
<rect x="863.8" y="245.5" width="359.5" height="22.7" fill="#fdeec3"/>
<rect x="863.8" y="245.5" width="359.5" height="22.7" fill="none" stroke="#050505" stroke-width="3"/>
<rect x="864.7" y="246.4" width="357.7" height="20.9" fill="none" stroke="#5e4d1c" stroke-width="1.2" stroke-opacity="0.85"/>
<rect x="865.9" y="247.6" width="355.3" height="18.5" fill="none" stroke="#fff6d6" stroke-width="0.9" stroke-opacity="0.9"/>
<rect x="745" y="337.6" width="478.3" height="14.5" fill="#fdeec3"/>
<rect x="745" y="337.6" width="478.3" height="14.5" fill="none" stroke="#050505" stroke-width="3"/>
<rect x="745.9" y="338.5" width="476.5" height="12.7" fill="none" stroke="#5e4d1c" stroke-width="1.2" stroke-opacity="0.85"/>
<rect x="747.1" y="339.7" width="474.1" height="10.3" fill="none" stroke="#fff6d6" stroke-width="0.9" stroke-opacity="0.9"/>
<path d="M997.3,160.5 L1074,160.5 A7,7 0 0 1 1081,167.5 L1081,195.9 A7,7 0 0 1 1074,202.9 L1044.5,202.9 L1035,245.9 L1028.5,202.9 L997.3,202.9 A7,7 0 0 1 990.3,195.9 L990.3,167.5 A7,7 0 0 1 997.3,160.5 Z" fill="none" stroke="#ffff70" stroke-width="4.6" stroke-linejoin="round" stroke-opacity="0.7"/>
<path d="M997.3,160.5 L1074,160.5 A7,7 0 0 1 1081,167.5 L1081,195.9 A7,7 0 0 1 1074,202.9 L1044.5,202.9 L1035,245.9 L1028.5,202.9 L997.3,202.9 A7,7 0 0 1 990.3,195.9 L990.3,167.5 A7,7 0 0 1 997.3,160.5 Z" fill="none" stroke="#ffff00" stroke-width="3.2" stroke-linejoin="round"/>
<text x="1000.3" y="179.7" font-family="'DejaVu Sans', sans-serif" font-size="11.7" fill="#111" font-weight="bold">Resistance</text>
<text x="1000.3" y="191.5" font-family="'DejaVu Sans', sans-serif" font-size="11.7" fill="#111" font-weight="bold">area</text>
<line x1="751" y1="227.4" x2="1440.5" y2="227.4" stroke="#ff0000" stroke-width="3"/>
<path d="M925,247 L934.1,234.8 L929.4,234.8 L929.4,228.4 L920.6,228.4 L920.6,234.8 L915.9,234.8Z" fill="#dd5840" stroke="#b53a24" stroke-width="0.9" stroke-linejoin="miter"/>
<path d="M945.3,247.5 L954.4,235.3 L949.7,235.3 L949.7,228.9 L940.9,228.9 L940.9,235.3 L936.2,235.3Z" fill="#dd5840" stroke="#b53a24" stroke-width="0.9" stroke-linejoin="miter"/>
<path d="M985,230.5 L994.1,218.3 L989.4,218.3 L989.4,211.9 L980.6,211.9 L980.6,218.3 L975.9,218.3Z" fill="#dd5840" stroke="#b53a24" stroke-width="0.9" stroke-linejoin="miter"/>
<path d="M1013.4,245.5 L1022.5,233.3 L1017.8,233.3 L1017.8,226.9 L1009,226.9 L1009,233.3 L1004.3,233.3Z" fill="#dd5840" stroke="#b53a24" stroke-width="0.9" stroke-linejoin="miter"/>
<path d="M1080.5,255.3 L1089.6,243.1 L1084.9,243.1 L1084.9,236.7 L1076.1,236.7 L1076.1,243.1 L1071.4,243.1Z" fill="#dd5840" stroke="#b53a24" stroke-width="0.9" stroke-linejoin="miter"/>
<path d="M1128.4,234.8 L1137.5,222.6 L1132.8,222.6 L1132.8,216.2 L1124,216.2 L1124,222.6 L1119.3,222.6Z" fill="#dd5840" stroke="#b53a24" stroke-width="0.9" stroke-linejoin="miter"/>
<line x1="751.5" y1="221.5" x2="1440.5" y2="221.5" stroke="#8fce2a" stroke-width="3"/>
<line x1="920.3" y1="311.4" x2="1223.5" y2="311.4" stroke="#1010ff" stroke-width="2.2"/>
<line x1="751" y1="354.6" x2="1211.9" y2="324.1" stroke="#1010ff" stroke-width="2.5"/>
<line x1="751.5" y1="92" x2="870.5" y2="336" stroke="#7a7a7a" stroke-width="2.2" stroke-linecap="round" stroke-dasharray="0.01 6.2"/>
<path d="M753.5,60V72.8M757.5,68.5V83M761.5,73.36V83.8M765.5,74.02V86.8M769.5,74.66V86.8M773.5,76.97V101.75M777.5,97.2V107.53M781.5,102.3V125.6M785.5,118V128.7M789.5,117.4V138.25M793.5,125.4V149.92M797.5,142.1V166.15M801.5,135.2V162.61M805.5,126.1V153.41M809.5,131.2V150.8M813.5,137.2V162M817.5,153.9V172.6M821.5,157.1V169.6M825.5,152.2V174.41M829.5,157.9V177.95M833.5,160.2V184.78M837.5,160.9V183M841.5,155.2V187.16M845.5,181V192.38M849.5,185V208.46M853.5,207.1V226.8M857.5,216.1V252.9M861.5,233.1V282.4M865.5,263.58V285M869.5,246.2V271.55M873.5,254.3V269.7M877.5,254.3V268.7M881.5,256.88V282.79M885.5,272.1V310.72M889.5,302.2V343.98M893.5,290.2V343.77M897.5,289.1V313.6M901.5,291.2V318.9M905.5,289.9V331.9M909.5,307.3V335.7M913.5,302.2V323.6M917.5,268.1V309.6M921.5,259.1V287.5M925.5,252V281.9M929.5,252.49V298.92M933.5,290.66V310M937.5,260V303.5M941.5,259.1V287.97M945.5,255.1V281.62M949.5,257V286.23M953.5,268.7V297.5M956.5,274.1V300.6M960.5,276.1V312.4M964.5,292.2V315.83M968.5,281.9V302.6M972.5,293.9V306.7M976.5,275.2V299.7M980.5,256.17V291.7M984.5,227.7V283.75M988.5,264.1V285.9M992.5,261.38V282.6M996.5,253.1V274.5M1000.5,264.1V283.6M1004.5,265.2V281.9M1008.5,259.1V277.5M1012.5,250.2V269.53M1016.5,259.1V298.11M1020.5,285.2V302.6M1024.5,284.15V319.8M1028.5,309.3V321.8M1032.5,315.2V327.8M1036.5,321.1V331.8M1040.5,295.1V335.4M1044.5,290V311.7M1048.5,288V310.5M1052.5,295.1V313.22M1056.5,294.1V309.54M1060.5,298.1V319M1064.5,295.1V310.5M1068.5,296.1V315.63M1072.5,296.1V314.75M1076.5,272V311.66M1080.5,260V285.6M1084.5,272V287.9M1088.5,282.8V302.59M1092.5,290.2V308.7M1096.5,274.2V308.7M1100.5,263.2V287.6M1104.5,268V282.76M1108.5,255.3V284.71M1112.5,253.2V264.8M1116.5,252.1V272.5M1120.5,258.3V276.32M1124.5,253.2V279.35M1128.5,239.3V261.72M1132.5,254.1V268.9M1136.5,262.9V277.7M1140.5,272V287.39M1144.5,261.4V289.68M1148.5,257.2V276.46M1152.5,268V281.6M1156.5,256V300.8M1160.5,279.1V295.5M1164.5,277.1V292.8M1168.5,286.48V293.47" stroke="#6a6a6a" stroke-width="1" fill="none"/>
<rect x="752" y="63.1" width="3" height="7.6" fill="#ff0000"/>
<rect x="756" y="70.7" width="3" height="8" fill="#ff0000"/>
<rect x="760" y="78.2" width="3" height="2" fill="#ff0000"/>
<rect x="764" y="79.1" width="3" height="2" fill="#ff0000"/>
<rect x="768" y="80.4" width="3" height="2" fill="#ff0000"/>
<rect x="772" y="81.8" width="3" height="14.3" fill="#ff0000"/>
<rect x="776" y="99.2" width="3" height="6.7" fill="#ff0000"/>
<rect x="780" y="105" width="3" height="17" fill="#ff0000"/>
<rect x="784" y="120" width="3" height="2" fill="#0000ff"/>
<rect x="788" y="119.1" width="3" height="13.4" fill="#ff0000"/>
<rect x="792" y="132.5" width="3" height="13" fill="#ff0000"/>
<rect x="796" y="145.1" width="3" height="15.5" fill="#ff0000"/>
<rect x="800" y="149.1" width="3" height="11.5" fill="#0000ff"/>
<rect x="804" y="138.1" width="3" height="11.7" fill="#0000ff"/>
<rect x="808" y="139" width="3" height="7.8" fill="#ff0000"/>
<rect x="812" y="145.1" width="3" height="14.7" fill="#ff0000"/>
<rect x="816" y="160.2" width="3" height="5.8" fill="#ff0000"/>
<rect x="820" y="158.9" width="3" height="4.9" fill="#0000ff"/>
<rect x="824" y="157.9" width="3" height="13.9" fill="#ff0000"/>
<rect x="828" y="164.9" width="3" height="9.1" fill="#0000ff"/>
<rect x="832" y="163.9" width="3" height="16.8" fill="#ff0000"/>
<rect x="836" y="163.9" width="3" height="17.1" fill="#0000ff"/>
<rect x="840" y="162.9" width="3" height="22.7" fill="#ff0000"/>
<rect x="844" y="185" width="3" height="4.9" fill="#ff0000"/>
<rect x="848" y="189" width="3" height="16.7" fill="#ff0000"/>
<rect x="852" y="209" width="3" height="10.7" fill="#ff0000"/>
<rect x="856" y="218.1" width="3" height="26.8" fill="#ff0000"/>
<rect x="860" y="245.2" width="3" height="31.5" fill="#ff0000"/>
<rect x="864" y="269.2" width="3" height="11.6" fill="#0000ff"/>
<rect x="868" y="265.5" width="3" height="2" fill="#0000ff"/>
<rect x="872" y="259.9" width="3" height="7.7" fill="#0000ff"/>
<rect x="876" y="259.1" width="3" height="2" fill="#ff0000"/>
<rect x="880" y="259.1" width="3" height="18.6" fill="#ff0000"/>
<rect x="884" y="276.8" width="3" height="31.8" fill="#ff0000"/>
<rect x="888" y="308.9" width="3" height="30.8" fill="#ff0000"/>
<rect x="892" y="310" width="3" height="31.7" fill="#0000ff"/>
<rect x="896" y="304.2" width="3" height="4.4" fill="#0000ff"/>
<rect x="900" y="296.2" width="3" height="8.4" fill="#0000ff"/>
<rect x="904" y="293.9" width="3" height="36.2" fill="#ff0000"/>
<rect x="908" y="310.9" width="3" height="20.1" fill="#0000ff"/>
<rect x="912" y="304.9" width="3" height="6" fill="#0000ff"/>
<rect x="916" y="276.1" width="3" height="30.8" fill="#0000ff"/>
<rect x="920" y="275.2" width="3" height="2.6" fill="#0000ff"/>
<rect x="924" y="254" width="3" height="22.8" fill="#0000ff"/>
<rect x="928" y="254" width="3" height="39.5" fill="#ff0000"/>
<rect x="932" y="293.1" width="3" height="2" fill="#ff0000"/>
<rect x="936" y="284.1" width="3" height="11.7" fill="#0000ff"/>
<rect x="940" y="270.1" width="3" height="15.4" fill="#0000ff"/>
<rect x="944" y="263.1" width="3" height="12.6" fill="#0000ff"/>
<rect x="948" y="260" width="3" height="20.8" fill="#ff0000"/>
<rect x="952" y="284.1" width="3" height="9.4" fill="#0000ff"/>
<rect x="955" y="280.1" width="3" height="15.4" fill="#0000ff"/>
<rect x="959" y="285.1" width="3" height="24.5" fill="#ff0000"/>
<rect x="963" y="296.2" width="3" height="13.8" fill="#0000ff"/>
<rect x="967" y="295.2" width="3" height="2" fill="#0000ff"/>
<rect x="971" y="296.2" width="3" height="2" fill="#ff0000"/>
<rect x="975" y="283.9" width="3" height="14.1" fill="#0000ff"/>
<rect x="979" y="260.1" width="3" height="23.8" fill="#0000ff"/>
<rect x="983" y="260.1" width="3" height="19.1" fill="#ff0000"/>
<rect x="987" y="279.2" width="3" height="2.3" fill="#ff0000"/>
<rect x="991" y="263.8" width="3" height="16.1" fill="#0000ff"/>
<rect x="995" y="264.1" width="3" height="4.8" fill="#ff0000"/>
<rect x="999" y="268.9" width="3" height="9" fill="#ff0000"/>
<rect x="1003" y="275.2" width="3" height="2.7" fill="#0000ff"/>
<rect x="1007" y="262.2" width="3" height="12.6" fill="#0000ff"/>
<rect x="1011" y="262.2" width="3" height="2" fill="#ff0000"/>
<rect x="1015" y="262.2" width="3" height="31.3" fill="#ff0000"/>
<rect x="1019" y="293.8" width="3" height="2" fill="#0000ff"/>
<rect x="1023" y="290" width="3" height="27.8" fill="#ff0000"/>
<rect x="1027" y="315.2" width="3" height="3.5" fill="#0000ff"/>
<rect x="1031" y="317.1" width="3" height="8.7" fill="#ff0000"/>
<rect x="1035" y="326.2" width="3" height="4.6" fill="#ff0000"/>
<rect x="1039" y="305.3" width="3" height="25.5" fill="#0000ff"/>
<rect x="1043" y="295.1" width="3" height="10.6" fill="#0000ff"/>
<rect x="1047" y="295.1" width="3" height="11.6" fill="#ff0000"/>
<rect x="1051" y="298.1" width="3" height="9.6" fill="#0000ff"/>
<rect x="1055" y="298.1" width="3" height="8.6" fill="#ff0000"/>
<rect x="1059" y="301" width="3" height="4.7" fill="#0000ff"/>
<rect x="1063" y="301" width="3" height="2" fill="#ff0000"/>
<rect x="1067" y="301" width="3" height="11.5" fill="#ff0000"/>
<rect x="1071" y="309.3" width="3" height="3.2" fill="#0000ff"/>
<rect x="1075" y="280.3" width="3" height="29.2" fill="#0000ff"/>
<rect x="1079" y="272" width="3" height="9.6" fill="#0000ff"/>
<rect x="1083" y="273.1" width="3" height="9.5" fill="#ff0000"/>
<rect x="1087" y="283.9" width="3" height="16.9" fill="#ff0000"/>
<rect x="1091" y="293" width="3" height="9.7" fill="#0000ff"/>
<rect x="1095" y="281.1" width="3" height="14.8" fill="#0000ff"/>
<rect x="1099" y="270" width="3" height="12.8" fill="#0000ff"/>
<rect x="1103" y="271.2" width="3" height="8.7" fill="#ff0000"/>
<rect x="1107" y="259.1" width="3" height="21.4" fill="#0000ff"/>
<rect x="1111" y="258.3" width="3" height="2" fill="#ff0000"/>
<rect x="1115" y="257.2" width="3" height="12.5" fill="#ff0000"/>
<rect x="1119" y="267.4" width="3" height="7.4" fill="#ff0000"/>
<rect x="1123" y="254.1" width="3" height="20.7" fill="#0000ff"/>
<rect x="1127" y="253.2" width="3" height="5.5" fill="#ff0000"/>
<rect x="1131" y="259.1" width="3" height="8.9" fill="#ff0000"/>
<rect x="1135" y="266.3" width="3" height="8.5" fill="#ff0000"/>
<rect x="1139" y="274.8" width="3" height="9.7" fill="#ff0000"/>
<rect x="1143" y="262.1" width="3" height="22.4" fill="#0000ff"/>
<rect x="1147" y="262.9" width="3" height="9.9" fill="#ff0000"/>
<rect x="1151" y="268.9" width="3" height="3.9" fill="#0000ff"/>
<rect x="1155" y="264" width="3" height="22.8" fill="#ff0000"/>
<rect x="1159" y="282.2" width="3" height="11.4" fill="#0000ff"/>
<rect x="1163" y="283" width="3" height="6.6" fill="#ff0000"/>
<rect x="1167" y="289.4" width="3" height="2" fill="#0000ff"/>
</g>
<text x="759.3" y="62.6" font-family="'Liberation Sans', sans-serif" font-size="12.6" fill="#555" font-weight="bold" textLength="131.5" lengthAdjust="spacingAndGlyphs">Euro Fx/U.S. Dollar, W</text>
<rect x="1230.5" y="245.8" width="76" height="12.5" fill="#e2ebf3" stroke="#7a95ab" stroke-width="1"/>
<text x="1232.6" y="255.6" font-family="'DejaVu Sans Mono', monospace" font-size="9.3" fill="#111" textLength="72" lengthAdjust="spacingAndGlyphs">1.1533-1.1278</text>
<rect x="1231" y="306" width="36" height="10.9" fill="#e2ebf3" stroke="#7a95ab" stroke-width="1"/>
<text x="1233.1" y="314.2" font-family="'DejaVu Sans Mono', monospace" font-size="9.3" fill="#111" textLength="32" lengthAdjust="spacingAndGlyphs">1.0796</text>
<rect x="1231" y="338.8" width="75.5" height="11.8" fill="#e2ebf3" stroke="#7a95ab" stroke-width="1"/>
<text x="1233.1" y="347.9" font-family="'DejaVu Sans Mono', monospace" font-size="9.3" fill="#111" textLength="71.5" lengthAdjust="spacingAndGlyphs">1.0333-1.0502</text>
<path d="M1281.7,153.9 L1414,153.9 A7,7 0 0 1 1421,160.9 L1421,190 A7,7 0 0 1 1414,197 L1283,196.7 L1254,224.2 L1275.1,189 L1274.7,160.9 A7,7 0 0 1 1281.7,153.9 Z" fill="none" stroke="#ffff70" stroke-width="4.6" stroke-linejoin="round" stroke-opacity="0.7"/>
<path d="M1281.7,153.9 L1414,153.9 A7,7 0 0 1 1421,160.9 L1421,190 A7,7 0 0 1 1414,197 L1283,196.7 L1254,224.2 L1275.1,189 L1274.7,160.9 A7,7 0 0 1 1281.7,153.9 Z" fill="none" stroke="#ffff00" stroke-width="3.2" stroke-linejoin="round"/>
<text x="1284.5" y="173" font-family="'DejaVu Sans', sans-serif" font-size="11.7" fill="#111" font-weight="bold">Broken Quasimodo</text>
<text x="1284.5" y="184.3" font-family="'DejaVu Sans', sans-serif" font-size="11.7" fill="#111" font-weight="bold">line</text>
<path d="M1330.3,266.4 L1388.8,266.4 A7,7 0 0 1 1395.8,273.4 L1395.8,289.5 A7,7 0 0 1 1388.8,296.5 L1333,296.3 L1278.7,304.5 L1323.3,288 L1323.3,273.4 A7,7 0 0 1 1330.3,266.4 Z" fill="none" stroke="#ffff70" stroke-width="4.6" stroke-linejoin="round" stroke-opacity="0.7"/>
<path d="M1330.3,266.4 L1388.8,266.4 A7,7 0 0 1 1395.8,273.4 L1395.8,289.5 A7,7 0 0 1 1388.8,296.5 L1333,296.3 L1278.7,304.5 L1323.3,288 L1323.3,273.4 A7,7 0 0 1 1330.3,266.4 Z" fill="none" stroke="#ffff00" stroke-width="3.2" stroke-linejoin="round"/>
<text x="1359.7" y="284.6" font-family="'DejaVu Sans', sans-serif" font-size="11.7" fill="#111" font-weight="bold" text-anchor="middle">Support</text>
<path d="M1345.4,319.5 L1404.2,319.5 A7,7 0 0 1 1411.2,326.5 L1411.2,341.7 A7,7 0 0 1 1404.2,348.7 L1345.4,348.7 A7,7 0 0 1 1338.4,341.7 L1338.4,342 L1309.3,339.2 L1338.4,327 L1338.4,326.5 A7,7 0 0 1 1345.4,319.5 Z" fill="none" stroke="#ffff70" stroke-width="4.6" stroke-linejoin="round" stroke-opacity="0.7"/>
<path d="M1345.4,319.5 L1404.2,319.5 A7,7 0 0 1 1411.2,326.5 L1411.2,341.7 A7,7 0 0 1 1404.2,348.7 L1345.4,348.7 A7,7 0 0 1 1338.4,341.7 L1338.4,342 L1309.3,339.2 L1338.4,327 L1338.4,326.5 A7,7 0 0 1 1345.4,319.5 Z" fill="none" stroke="#ffff00" stroke-width="3.2" stroke-linejoin="round"/>
<text x="1375" y="337.6" font-family="'DejaVu Sans', sans-serif" font-size="11.7" fill="#111" font-weight="bold" text-anchor="middle">Demand</text>
<path d="M770.7,283.1 L846.2,283.1 A7,7 0 0 1 853.2,290.1 L853.2,317.8 A7,7 0 0 1 846.2,324.8 L816.5,324.8 L808.6,346.6 L801,324.8 L770.7,324.8 A7,7 0 0 1 763.7,317.8 L763.7,290.1 A7,7 0 0 1 770.7,283.1 Z" fill="none" stroke="#ffff70" stroke-width="4.6" stroke-linejoin="round" stroke-opacity="0.7"/>
<path d="M770.7,283.1 L846.2,283.1 A7,7 0 0 1 853.2,290.1 L853.2,317.8 A7,7 0 0 1 846.2,324.8 L816.5,324.8 L808.6,346.6 L801,324.8 L770.7,324.8 A7,7 0 0 1 763.7,317.8 L763.7,290.1 A7,7 0 0 1 770.7,283.1 Z" fill="none" stroke="#ffff00" stroke-width="3.2" stroke-linejoin="round"/>
<text x="773.8" y="301.7" font-family="'DejaVu Sans', sans-serif" font-size="11.7" fill="#111" font-weight="bold">Long-term</text>
<text x="773.8" y="313.5" font-family="'DejaVu Sans', sans-serif" font-size="11.7" fill="#111" font-weight="bold">trendline</text>
<line x1="1442.5" y1="41" x2="1442.5" y2="358.5" stroke="#5e5e5e" stroke-width="1"/>
<line x1="750" y1="358.5" x2="1442.5" y2="358.5" stroke="#5e5e5e" stroke-width="1"/>
<line x1="1442.5" y1="72.5" x2="1446.5" y2="72.5" stroke="#5e5e5e" stroke-width="1"/>
<text x="1449.6" y="75.5" font-family="'Liberation Sans', sans-serif" font-size="11" fill="#5a5a5a" textLength="38.6" lengthAdjust="spacingAndGlyphs">1.35000</text>
<line x1="1442.5" y1="116.5" x2="1446.5" y2="116.5" stroke="#5e5e5e" stroke-width="1"/>
<text x="1449.6" y="119.75" font-family="'Liberation Sans', sans-serif" font-size="11" fill="#5a5a5a" textLength="38.6" lengthAdjust="spacingAndGlyphs">1.30000</text>
<line x1="1442.5" y1="160.5" x2="1446.5" y2="160.5" stroke="#5e5e5e" stroke-width="1"/>
<text x="1449.6" y="164" font-family="'Liberation Sans', sans-serif" font-size="11" fill="#5a5a5a" textLength="38.6" lengthAdjust="spacingAndGlyphs">1.25000</text>
<line x1="1442.5" y1="204.5" x2="1446.5" y2="204.5" stroke="#5e5e5e" stroke-width="1"/>
<text x="1449.6" y="208.25" font-family="'Liberation Sans', sans-serif" font-size="11" fill="#5a5a5a" textLength="38.6" lengthAdjust="spacingAndGlyphs">1.20000</text>
<line x1="1442.5" y1="249.5" x2="1446.5" y2="249.5" stroke="#5e5e5e" stroke-width="1"/>
<text x="1449.6" y="252.5" font-family="'Liberation Sans', sans-serif" font-size="11" fill="#5a5a5a" textLength="38.6" lengthAdjust="spacingAndGlyphs">1.15000</text>
<line x1="1442.5" y1="293.5" x2="1446.5" y2="293.5" stroke="#5e5e5e" stroke-width="1"/>
<text x="1449.6" y="296.75" font-family="'Liberation Sans', sans-serif" font-size="11" fill="#5a5a5a" textLength="38.6" lengthAdjust="spacingAndGlyphs">1.10000</text>
<line x1="1442.5" y1="337.5" x2="1446.5" y2="337.5" stroke="#5e5e5e" stroke-width="1"/>
<text x="1449.6" y="341" font-family="'Liberation Sans', sans-serif" font-size="11" fill="#5a5a5a" textLength="38.6" lengthAdjust="spacingAndGlyphs">1.05000</text>
<rect x="1442" y="220" width="50.2" height="16" fill="#ff0000"/>
<line x1="1442" y1="228" x2="1446" y2="228" stroke="#fff" stroke-width="1"/>
<text x="1449.5" y="232" font-family="'Liberation Sans', sans-serif" font-size="11" fill="#fff" font-weight="bold" textLength="38" lengthAdjust="spacingAndGlyphs">1.17456</text>
<rect x="1442" y="281" width="50.2" height="16" fill="#0000ff"/>
<line x1="1442" y1="289" x2="1446" y2="289" stroke="#fff" stroke-width="1"/>
<text x="1449.5" y="293" font-family="'Liberation Sans', sans-serif" font-size="11" fill="#fff" font-weight="bold" textLength="38" lengthAdjust="spacingAndGlyphs">1.10476</text>
<line x1="853.5" y1="358" x2="853.5" y2="362.5" stroke="#5e5e5e" stroke-width="1"/>
<text x="853.3" y="372.3" font-family="'Liberation Sans', sans-serif" font-size="11" fill="#5a5a5a" font-weight="bold" text-anchor="middle">2015</text>
<line x1="937.5" y1="358" x2="937.5" y2="362.5" stroke="#5e5e5e" stroke-width="1"/>
<text x="937.3" y="372.3" font-family="'Liberation Sans', sans-serif" font-size="11" fill="#5a5a5a" text-anchor="middle">Jun</text>
<line x1="1061.5" y1="358" x2="1061.5" y2="362.5" stroke="#5e5e5e" stroke-width="1"/>
<text x="1060.6" y="372.3" font-family="'Liberation Sans', sans-serif" font-size="11" fill="#5a5a5a" font-weight="bold" text-anchor="middle">2016</text>
<line x1="1148.5" y1="358" x2="1148.5" y2="362.5" stroke="#5e5e5e" stroke-width="1"/>
<text x="1148.4" y="372.3" font-family="'Liberation Sans', sans-serif" font-size="11" fill="#5a5a5a" text-anchor="middle">Jun</text>
<line x1="1268.5" y1="358" x2="1268.5" y2="362.5" stroke="#5e5e5e" stroke-width="1"/>
<text x="1268.3" y="372.3" font-family="'Liberation Sans', sans-serif" font-size="11" fill="#5a5a5a" font-weight="bold" text-anchor="middle">2017</text>
<line x1="1356.5" y1="358" x2="1356.5" y2="362.5" stroke="#5e5e5e" stroke-width="1"/>
<text x="1356.5" y="372.3" font-family="'Liberation Sans', sans-serif" font-size="11" fill="#5a5a5a" text-anchor="middle">Jun</text>
<line x1="1431.5" y1="358" x2="1431.5" y2="362.5" stroke="#5e5e5e" stroke-width="1"/>
<text x="1431.4" y="372.3" font-family="'Liberation Sans', sans-serif" font-size="11" fill="#5a5a5a" text-anchor="middle">16</text>
<rect x="750.5" y="405.5" width="742" height="337" fill="#fff" stroke="#5e5e5e" stroke-width="1"/>
<line x1="750" y1="404.5" x2="1493" y2="404.5" stroke="#fbfdfe" stroke-width="1"/>
<clipPath id="cd"><rect x="751" y="406" width="691" height="317"/></clipPath>
<g clip-path="url(#cd)">
<rect x="927.5" y="483.6" width="273.9" height="28.3" fill="#fdeec3"/>
<rect x="927.5" y="483.6" width="273.9" height="28.3" fill="none" stroke="#050505" stroke-width="3"/>
<rect x="928.4" y="484.5" width="272.1" height="26.5" fill="none" stroke="#5e4d1c" stroke-width="1.2" stroke-opacity="0.85"/>
<rect x="929.6" y="485.7" width="269.7" height="24.1" fill="none" stroke="#fff6d6" stroke-width="0.9" stroke-opacity="0.9"/>
<rect x="745" y="562.7" width="456.4" height="42.4" fill="#fdeec3"/>
<rect x="745" y="562.7" width="456.4" height="42.4" fill="none" stroke="#050505" stroke-width="3"/>
<rect x="745.9" y="563.6" width="454.6" height="40.6" fill="none" stroke="#5e4d1c" stroke-width="1.2" stroke-opacity="0.85"/>
<rect x="747.1" y="564.8" width="452.2" height="38.2" fill="none" stroke="#fff6d6" stroke-width="0.9" stroke-opacity="0.9"/>
<text x="759.6" y="427.1" font-family="'Liberation Sans', sans-serif" font-size="12.6" fill="#555" font-weight="bold" textLength="127" lengthAdjust="spacingAndGlyphs">Euro Fx/U.S. Dollar, D</text>
<line x1="751" y1="422.5" x2="1440.5" y2="422.5" stroke="#ff0000" stroke-width="3"/>
<line x1="751" y1="704.4" x2="1440.5" y2="704.4" stroke="#0000ff" stroke-width="3"/>
<path d="M750.5,686.26V693.51M754.5,651.8V694.7M758.5,627.3V676.7M761.5,633V663.9M765.5,622.1V644.6M769.5,630.2V661.5M773.5,573.39V705.3M776.5,568.4V593.93M780.5,588.78V614.4M784.5,600.31V616.5M787.5,556.2V621.8M791.5,520.2V569.7M795.5,522.2V550.7M798.5,541.3V559.95M802.5,549.9V574.4M806.5,560.16V585.3M809.5,577.08V590M813.5,576.7V590.3M817.5,563.5V589.72M821.5,534.2V581.3M824.5,511.9V543.04M828.5,495.8V531.5M832.5,486V522.8M835.5,495V514.8M839.5,498.1V522.8M843.5,489.1V525.5M847.5,481.1V521.5M850.5,493.1V517.5M854.5,482.9V509.5M858.5,479V518.8M861.5,503.4V551.25M865.5,537.3V558.7M869.5,530.2V554.7M872.5,524.2V544.9M876.5,505.2V539.46M880.5,504.1V540.54M883.5,500.1V546.7M887.5,532.2V569.04M891.5,542.9V567.5M895.5,522.2V550.7M898.5,514.1V545.9M902.5,511.1V536.9M906.5,478.9V524.56M909.5,451V482.6M913.5,429.1V474.29M917.5,454V475.7M921.5,467.1V504.8M924.5,472.2V504.8M928.5,497.54V512.18M932.5,496.1V514.5M935.5,483.1V519.76M939.5,490V511.98M943.5,506.8V541.8M946.5,519.9V534.6M950.5,518.2V540.05M954.5,529.8V570.44M957.5,563.43V577.4M961.5,558.3V572.7M965.5,556.3V575.4M969.5,562.3V596.41M972.5,583.4V596.4M976.5,565.2V592.65M980.5,571.2V610.8M983.5,591.1V607.5M987.5,581.2V598.8M991.5,573.1V601.5M995.5,563.8V592.78M998.5,509.2V593.5M1002.5,503V526.6M1006.5,507V521.5M1009.5,496.1V521.89M1013.5,494.1V533.8M1017.5,528.2V561.43M1020.5,535.2V559.7M1024.5,536.2V574.6M1028.5,536.2V574.6M1031.5,536.9V595.1M1035.5,537.3V567.63M1039.5,506.1V534.6M1043.5,518.2V561.89M1046.5,522.2V559.38M1050.5,492V540.56M1054.5,490V673.7M1057.5,613V652.9M1061.5,603.1V638.7M1065.5,596.1V624.3M1069.5,588.1V633.9M1072.5,582.2V616.5M1076.5,586V607.9M1080.5,576.1V619.8M1083.5,603.4V631.5M1087.5,604.2V623.9M1091.5,600.2V641.9M1094.5,623.9V629.54" stroke="#6a6a6a" stroke-width="1" fill="none"/>
<rect x="749" y="690.2" width="3" height="2" fill="#0000ff"/>
<rect x="753" y="658.3" width="3" height="32.6" fill="#0000ff"/>
<rect x="757" y="642.2" width="3" height="16.6" fill="#0000ff"/>
<rect x="760" y="638.2" width="3" height="9.3" fill="#0000ff"/>
<rect x="764" y="638.2" width="3" height="2" fill="#ff0000"/>
<rect x="768" y="639.5" width="3" height="7" fill="#ff0000"/>
<rect x="772" y="579.3" width="3" height="67.2" fill="#0000ff"/>
<rect x="775" y="579.3" width="3" height="12.2" fill="#ff0000"/>
<rect x="779" y="594" width="3" height="14.5" fill="#ff0000"/>
<rect x="783" y="604.5" width="3" height="4" fill="#0000ff"/>
<rect x="786" y="562.8" width="3" height="42.5" fill="#0000ff"/>
<rect x="790" y="530.2" width="3" height="33.1" fill="#0000ff"/>
<rect x="794" y="530.2" width="3" height="17.4" fill="#ff0000"/>
<rect x="797" y="551" width="3" height="6.6" fill="#ff0000"/>
<rect x="801" y="557.4" width="3" height="8.3" fill="#ff0000"/>
<rect x="805" y="565.2" width="3" height="14.1" fill="#ff0000"/>
<rect x="808" y="579.3" width="3" height="2.6" fill="#ff0000"/>
<rect x="812" y="581.3" width="3" height="6" fill="#ff0000"/>
<rect x="816" y="573.3" width="3" height="14" fill="#0000ff"/>
<rect x="820" y="540.2" width="3" height="33.5" fill="#0000ff"/>
<rect x="823" y="523.1" width="3" height="17.4" fill="#0000ff"/>
<rect x="827" y="508.1" width="3" height="15.4" fill="#0000ff"/>
<rect x="831" y="503" width="3" height="5.4" fill="#0000ff"/>
<rect x="834" y="500.1" width="3" height="5.6" fill="#ff0000"/>
<rect x="838" y="505.2" width="3" height="2.6" fill="#ff0000"/>
<rect x="842" y="501.2" width="3" height="6.6" fill="#0000ff"/>
<rect x="846" y="501.2" width="3" height="7.2" fill="#ff0000"/>
<rect x="849" y="502.5" width="3" height="5.9" fill="#0000ff"/>
<rect x="853" y="495.4" width="3" height="4" fill="#ff0000"/>
<rect x="857" y="499.4" width="3" height="6.7" fill="#ff0000"/>
<rect x="860" y="506.1" width="3" height="40.6" fill="#ff0000"/>
<rect x="864" y="546.3" width="3" height="2.2" fill="#ff0000"/>
<rect x="868" y="545.3" width="3" height="3.2" fill="#0000ff"/>
<rect x="871" y="532.2" width="3" height="3.8" fill="#0000ff"/>
<rect x="875" y="515.1" width="3" height="17.4" fill="#0000ff"/>
<rect x="879" y="515.1" width="3" height="22.7" fill="#ff0000"/>
<rect x="882" y="537.3" width="3" height="3.2" fill="#ff0000"/>
<rect x="886" y="540.2" width="3" height="25.5" fill="#ff0000"/>
<rect x="890" y="548.3" width="3" height="17.4" fill="#0000ff"/>
<rect x="894" y="537.3" width="3" height="11.2" fill="#0000ff"/>
<rect x="897" y="529.3" width="3" height="8.5" fill="#0000ff"/>
<rect x="901" y="518.2" width="3" height="11.6" fill="#0000ff"/>
<rect x="905" y="484" width="3" height="34.8" fill="#0000ff"/>
<rect x="908" y="454" width="3" height="26.8" fill="#0000ff"/>
<rect x="912" y="454" width="3" height="12.6" fill="#ff0000"/>
<rect x="916" y="466" width="3" height="3.5" fill="#ff0000"/>
<rect x="920" y="469" width="3" height="30.5" fill="#ff0000"/>
<rect x="923" y="499.4" width="3" height="2" fill="#ff0000"/>
<rect x="927" y="503" width="3" height="4.8" fill="#ff0000"/>
<rect x="931" y="507" width="3" height="4.9" fill="#ff0000"/>
<rect x="934" y="491" width="3" height="20.9" fill="#0000ff"/>
<rect x="938" y="491.2" width="3" height="18.5" fill="#ff0000"/>
<rect x="942" y="509.2" width="3" height="26.8" fill="#ff0000"/>
<rect x="945" y="529.3" width="3" height="3.6" fill="#0000ff"/>
<rect x="949" y="529.3" width="3" height="3.6" fill="#ff0000"/>
<rect x="953" y="532.2" width="3" height="34.5" fill="#ff0000"/>
<rect x="956" y="566.3" width="3" height="4.5" fill="#ff0000"/>
<rect x="960" y="565" width="3" height="5.8" fill="#0000ff"/>
<rect x="964" y="564" width="3" height="5.5" fill="#0000ff"/>
<rect x="968" y="564" width="3" height="29.7" fill="#ff0000"/>
<rect x="971" y="588.1" width="3" height="5.6" fill="#0000ff"/>
<rect x="975" y="574.1" width="3" height="14.7" fill="#0000ff"/>
<rect x="979" y="574.1" width="3" height="29.8" fill="#ff0000"/>
<rect x="982" y="594.1" width="3" height="9.8" fill="#0000ff"/>
<rect x="986" y="594.1" width="3" height="2.7" fill="#ff0000"/>
<rect x="990" y="575.8" width="3" height="21" fill="#0000ff"/>
<rect x="994" y="575.8" width="3" height="13.9" fill="#ff0000"/>
<rect x="997" y="514.1" width="3" height="75.6" fill="#0000ff"/>
<rect x="1001" y="517" width="3" height="2" fill="#0000ff"/>
<rect x="1005" y="516.1" width="3" height="2" fill="#0000ff"/>
<rect x="1008" y="504.4" width="3" height="12" fill="#0000ff"/>
<rect x="1012" y="504.4" width="3" height="27.1" fill="#ff0000"/>
<rect x="1016" y="530.9" width="3" height="24.7" fill="#ff0000"/>
<rect x="1019" y="538.9" width="3" height="16.7" fill="#0000ff"/>
<rect x="1023" y="538.9" width="3" height="31.7" fill="#ff0000"/>
<rect x="1027" y="549.9" width="3" height="20.7" fill="#0000ff"/>
<rect x="1030" y="549.9" width="3" height="13.5" fill="#ff0000"/>
<rect x="1034" y="545.3" width="3" height="18.1" fill="#0000ff"/>
<rect x="1038" y="523.9" width="3" height="7.6" fill="#ff0000"/>
<rect x="1042" y="530.9" width="3" height="25.7" fill="#ff0000"/>
<rect x="1045" y="538.2" width="3" height="18.8" fill="#0000ff"/>
<rect x="1049" y="504.8" width="3" height="33.4" fill="#0000ff"/>
<rect x="1053" y="504.8" width="3" height="109" fill="#ff0000"/>
<rect x="1056" y="634.2" width="3" height="5.3" fill="#0000ff"/>
<rect x="1060" y="620.2" width="3" height="14.5" fill="#0000ff"/>
<rect x="1064" y="598.9" width="3" height="21.8" fill="#0000ff"/>
<rect x="1068" y="598.9" width="3" height="6.9" fill="#ff0000"/>
<rect x="1071" y="594.1" width="3" height="11.7" fill="#0000ff"/>
<rect x="1075" y="588.1" width="3" height="10.5" fill="#0000ff"/>
<rect x="1079" y="588.1" width="3" height="28.4" fill="#ff0000"/>
<rect x="1082" y="606.9" width="3" height="9.6" fill="#0000ff"/>
<rect x="1086" y="606.9" width="3" height="14.9" fill="#ff0000"/>
<rect x="1090" y="621" width="3" height="5.7" fill="#ff0000"/>
<rect x="1093" y="626" width="3" height="2" fill="#0000ff"/>
<path d="M773.5,564.6 L782.6,552.4 L777.9,552.4 L777.9,546 L769.1,546 L769.1,552.4 L764.4,552.4Z" fill="#dd5840" stroke="#b53a24" stroke-width="0.9" stroke-linejoin="miter"/>
<path d="M813.3,590.3 L822.4,602.5 L817.7,602.5 L817.7,608.9 L808.9,608.9 L808.9,602.5 L804.2,602.5Z" fill="#32895a" stroke="#1c5a37" stroke-width="0.9" stroke-linejoin="miter"/>
<path d="M891.6,569.2 L900.7,581.4 L896,581.4 L896,587.8 L887.2,587.8 L887.2,581.4 L882.5,581.4Z" fill="#32895a" stroke="#1c5a37" stroke-width="0.9" stroke-linejoin="miter"/>
<path d="M984.5,610.6 L993.6,622.8 L988.9,622.8 L988.9,629.2 L980.1,629.2 L980.1,622.8 L975.4,622.8Z" fill="#32895a" stroke="#1c5a37" stroke-width="0.9" stroke-linejoin="miter"/>
<path d="M1032.4,594.5 L1041.5,606.7 L1036.8,606.7 L1036.8,613.1 L1028,613.1 L1028,606.7 L1023.3,606.7Z" fill="#32895a" stroke="#1c5a37" stroke-width="0.9" stroke-linejoin="miter"/>
</g>
<rect x="1207.7" y="487.5" width="76.7" height="12.9" fill="#e2ebf3" stroke="#7a95ab" stroke-width="1"/>
<text x="1209.8" y="497.7" font-family="'DejaVu Sans Mono', monospace" font-size="9.3" fill="#111" textLength="72.7" lengthAdjust="spacingAndGlyphs">1.1446-1.1369</text>
<rect x="1207.7" y="563.8" width="76.7" height="12.4" fill="#e2ebf3" stroke="#7a95ab" stroke-width="1"/>
<text x="1209.8" y="573.5" font-family="'DejaVu Sans Mono', monospace" font-size="9.3" fill="#111" textLength="72.7" lengthAdjust="spacingAndGlyphs">1.1224-1.1104</text>
<path d="M1309,430.7 L1384.5,430.7 A7,7 0 0 1 1391.5,437.7 L1391.5,454.6 A7,7 0 0 1 1384.5,461.6 L1307.8,461.6 A7,7 0 0 1 1300.8,454.6 L1300.8,438.5 L1270.2,426.2 Z" fill="none" stroke="#ffff70" stroke-width="4.6" stroke-linejoin="round" stroke-opacity="0.7"/>
<path d="M1309,430.7 L1384.5,430.7 A7,7 0 0 1 1391.5,437.7 L1391.5,454.6 A7,7 0 0 1 1384.5,461.6 L1307.8,461.6 A7,7 0 0 1 1300.8,454.6 L1300.8,438.5 L1270.2,426.2 Z" fill="none" stroke="#ffff00" stroke-width="3.2" stroke-linejoin="round"/>
<text x="1345.9" y="449.5" font-family="'DejaVu Sans', sans-serif" font-size="11.7" fill="#111" font-weight="bold" text-anchor="middle">Resistance</text>
<path d="M1339.2,478.1 L1389.2,478.1 A7,7 0 0 1 1396.2,485.1 L1396.2,500.9 A7,7 0 0 1 1389.2,507.9 L1339.2,507.9 A7,7 0 0 1 1332.2,500.9 L1332.2,500 L1291,491.8 L1332.2,485 L1332.2,485.1 A7,7 0 0 1 1339.2,478.1 Z" fill="none" stroke="#ffff70" stroke-width="4.6" stroke-linejoin="round" stroke-opacity="0.7"/>
<path d="M1339.2,478.1 L1389.2,478.1 A7,7 0 0 1 1396.2,485.1 L1396.2,500.9 A7,7 0 0 1 1389.2,507.9 L1339.2,507.9 A7,7 0 0 1 1332.2,500.9 L1332.2,500 L1291,491.8 L1332.2,485 L1332.2,485.1 A7,7 0 0 1 1339.2,478.1 Z" fill="none" stroke="#ffff00" stroke-width="3.2" stroke-linejoin="round"/>
<text x="1363.8" y="496.9" font-family="'DejaVu Sans', sans-serif" font-size="11.7" fill="#111" font-weight="bold" text-anchor="middle">Supply</text>
<path d="M1312.7,526.3 L1423.5,526.3 A7,7 0 0 1 1430.5,533.3 L1430.5,549.1 A7,7 0 0 1 1423.5,556.1 L1312.7,556.1 A7,7 0 0 1 1305.7,549.1 L1305.7,548.5 L1285.4,562 L1305.7,533.3 L1305.7,533.3 A7,7 0 0 1 1312.7,526.3 Z" fill="none" stroke="#ffff70" stroke-width="4.6" stroke-linejoin="round" stroke-opacity="0.7"/>
<path d="M1312.7,526.3 L1423.5,526.3 A7,7 0 0 1 1430.5,533.3 L1430.5,549.1 A7,7 0 0 1 1423.5,556.1 L1312.7,556.1 A7,7 0 0 1 1305.7,549.1 L1305.7,548.5 L1285.4,562 L1305.7,533.3 L1305.7,533.3 A7,7 0 0 1 1312.7,526.3 Z" fill="none" stroke="#ffff00" stroke-width="3.2" stroke-linejoin="round"/>
<text x="1315.6" y="544.5" font-family="'DejaVu Sans', sans-serif" font-size="11.7" fill="#111" font-weight="bold">Resistance area</text>
<path d="M1335.1,662.8 L1393.5,662.8 A7,7 0 0 1 1400.5,669.8 L1400.5,687 A7,7 0 0 1 1393.5,694 L1336,694 L1320.7,704 L1328.1,686 L1328.1,669.8 A7,7 0 0 1 1335.1,662.8 Z" fill="none" stroke="#ffff70" stroke-width="4.6" stroke-linejoin="round" stroke-opacity="0.7"/>
<path d="M1335.1,662.8 L1393.5,662.8 A7,7 0 0 1 1400.5,669.8 L1400.5,687 A7,7 0 0 1 1393.5,694 L1336,694 L1320.7,704 L1328.1,686 L1328.1,669.8 A7,7 0 0 1 1335.1,662.8 Z" fill="none" stroke="#ffff00" stroke-width="3.2" stroke-linejoin="round"/>
<text x="1364.8" y="681.7" font-family="'DejaVu Sans', sans-serif" font-size="11.7" fill="#111" font-weight="bold" text-anchor="middle">Support</text>
<line x1="1442.5" y1="405" x2="1442.5" y2="723.5" stroke="#5e5e5e" stroke-width="1"/>
<line x1="750" y1="723.5" x2="1442.5" y2="723.5" stroke="#5e5e5e" stroke-width="1"/>
<line x1="1442.5" y1="428.5" x2="1446.5" y2="428.5" stroke="#5e5e5e" stroke-width="1"/>
<text x="1449.6" y="432.03" font-family="'Liberation Sans', sans-serif" font-size="11" fill="#5a5a5a" textLength="38.6" lengthAdjust="spacingAndGlyphs">1.16000</text>
<line x1="1442.5" y1="464.5" x2="1446.5" y2="464.5" stroke="#5e5e5e" stroke-width="1"/>
<text x="1449.6" y="467.7" font-family="'Liberation Sans', sans-serif" font-size="11" fill="#5a5a5a" textLength="38.6" lengthAdjust="spacingAndGlyphs">1.15000</text>
<line x1="1442.5" y1="499.5" x2="1446.5" y2="499.5" stroke="#5e5e5e" stroke-width="1"/>
<text x="1449.6" y="503.37" font-family="'Liberation Sans', sans-serif" font-size="11" fill="#5a5a5a" textLength="38.6" lengthAdjust="spacingAndGlyphs">1.14000</text>
<line x1="1442.5" y1="535.5" x2="1446.5" y2="535.5" stroke="#5e5e5e" stroke-width="1"/>
<text x="1449.6" y="539.04" font-family="'Liberation Sans', sans-serif" font-size="11" fill="#5a5a5a" textLength="38.6" lengthAdjust="spacingAndGlyphs">1.13000</text>
<line x1="1442.5" y1="571.5" x2="1446.5" y2="571.5" stroke="#5e5e5e" stroke-width="1"/>
<text x="1449.6" y="574.71" font-family="'Liberation Sans', sans-serif" font-size="11" fill="#5a5a5a" textLength="38.6" lengthAdjust="spacingAndGlyphs">1.12000</text>
<line x1="1442.5" y1="606.5" x2="1446.5" y2="606.5" stroke="#5e5e5e" stroke-width="1"/>
<text x="1449.6" y="610.38" font-family="'Liberation Sans', sans-serif" font-size="11" fill="#5a5a5a" textLength="38.6" lengthAdjust="spacingAndGlyphs">1.11000</text>
<line x1="1442.5" y1="642.5" x2="1446.5" y2="642.5" stroke="#5e5e5e" stroke-width="1"/>
<text x="1449.6" y="646.05" font-family="'Liberation Sans', sans-serif" font-size="11" fill="#5a5a5a" textLength="38.6" lengthAdjust="spacingAndGlyphs">1.10000</text>
<line x1="1442.5" y1="678.5" x2="1446.5" y2="678.5" stroke="#5e5e5e" stroke-width="1"/>
<text x="1449.6" y="681.72" font-family="'Liberation Sans', sans-serif" font-size="11" fill="#5a5a5a" textLength="38.6" lengthAdjust="spacingAndGlyphs">1.09000</text>
<line x1="1442.5" y1="713.5" x2="1446.5" y2="713.5" stroke="#5e5e5e" stroke-width="1"/>
<text x="1449.6" y="717.39" font-family="'Liberation Sans', sans-serif" font-size="11" fill="#5a5a5a" textLength="38.6" lengthAdjust="spacingAndGlyphs">1.08000</text>
<rect x="1442" y="414.9" width="50.2" height="15.8" fill="#ff0000"/>
<line x1="1442" y1="422.8" x2="1446" y2="422.8" stroke="#fff" stroke-width="1"/>
<text x="1449.5" y="426.8" font-family="'Liberation Sans', sans-serif" font-size="11" fill="#fff" font-weight="bold" textLength="38" lengthAdjust="spacingAndGlyphs">1.16150</text>
<rect x="1442" y="618" width="50.2" height="15.8" fill="#0000ff"/>
<line x1="1442" y1="625.9" x2="1446" y2="625.9" stroke="#fff" stroke-width="1"/>
<text x="1449.5" y="629.9" font-family="'Liberation Sans', sans-serif" font-size="11" fill="#fff" font-weight="bold" textLength="38" lengthAdjust="spacingAndGlyphs">1.10476</text>
<rect x="1442" y="699.3" width="50.2" height="15.8" fill="#0000ff"/>
<line x1="1442" y1="707.2" x2="1446" y2="707.2" stroke="#fff" stroke-width="1"/>
<text x="1449.5" y="711.2" font-family="'Liberation Sans', sans-serif" font-size="11" fill="#fff" font-weight="bold" textLength="38" lengthAdjust="spacingAndGlyphs">1.08240</text>
<line x1="833.5" y1="723" x2="833.5" y2="727.5" stroke="#5e5e5e" stroke-width="1"/>
<text x="832.6" y="738.3" font-family="'Liberation Sans', sans-serif" font-size="11" fill="#5a5a5a" font-weight="bold" text-anchor="middle">Apr</text>
<line x1="910.5" y1="723" x2="910.5" y2="727.5" stroke="#5e5e5e" stroke-width="1"/>
<text x="910.5" y="738.3" font-family="'Liberation Sans', sans-serif" font-size="11" fill="#5a5a5a" font-weight="bold" text-anchor="middle">May</text>
<line x1="991.5" y1="723" x2="991.5" y2="727.5" stroke="#5e5e5e" stroke-width="1"/>
<text x="991.4" y="738.3" font-family="'Liberation Sans', sans-serif" font-size="11" fill="#5a5a5a" font-weight="bold" text-anchor="middle">Jun</text>
<line x1="1073.5" y1="723" x2="1073.5" y2="727.5" stroke="#5e5e5e" stroke-width="1"/>
<text x="1072.6" y="738.3" font-family="'Liberation Sans', sans-serif" font-size="11" fill="#5a5a5a" font-weight="bold" text-anchor="middle">Jul</text>
<line x1="1150.5" y1="723" x2="1150.5" y2="727.5" stroke="#5e5e5e" stroke-width="1"/>
<text x="1150.4" y="738.3" font-family="'Liberation Sans', sans-serif" font-size="11" fill="#5a5a5a" font-weight="bold" text-anchor="middle">Aug</text>
<line x1="1235.5" y1="723" x2="1235.5" y2="727.5" stroke="#5e5e5e" stroke-width="1"/>
<text x="1235.3" y="738.3" font-family="'Liberation Sans', sans-serif" font-size="11" fill="#5a5a5a" font-weight="bold" text-anchor="middle">Sep</text>
<line x1="1318.5" y1="723" x2="1318.5" y2="727.5" stroke="#5e5e5e" stroke-width="1"/>
<text x="1317.8" y="738.3" font-family="'Liberation Sans', sans-serif" font-size="11" fill="#5a5a5a" font-weight="bold" text-anchor="middle">Oct</text>
<line x1="1394.5" y1="723" x2="1394.5" y2="727.5" stroke="#5e5e5e" stroke-width="1"/>
<text x="1394.5" y="738.3" font-family="'Liberation Sans', sans-serif" font-size="11" fill="#5a5a5a" font-weight="bold" text-anchor="middle">Nov</text>
</svg></body></html>
